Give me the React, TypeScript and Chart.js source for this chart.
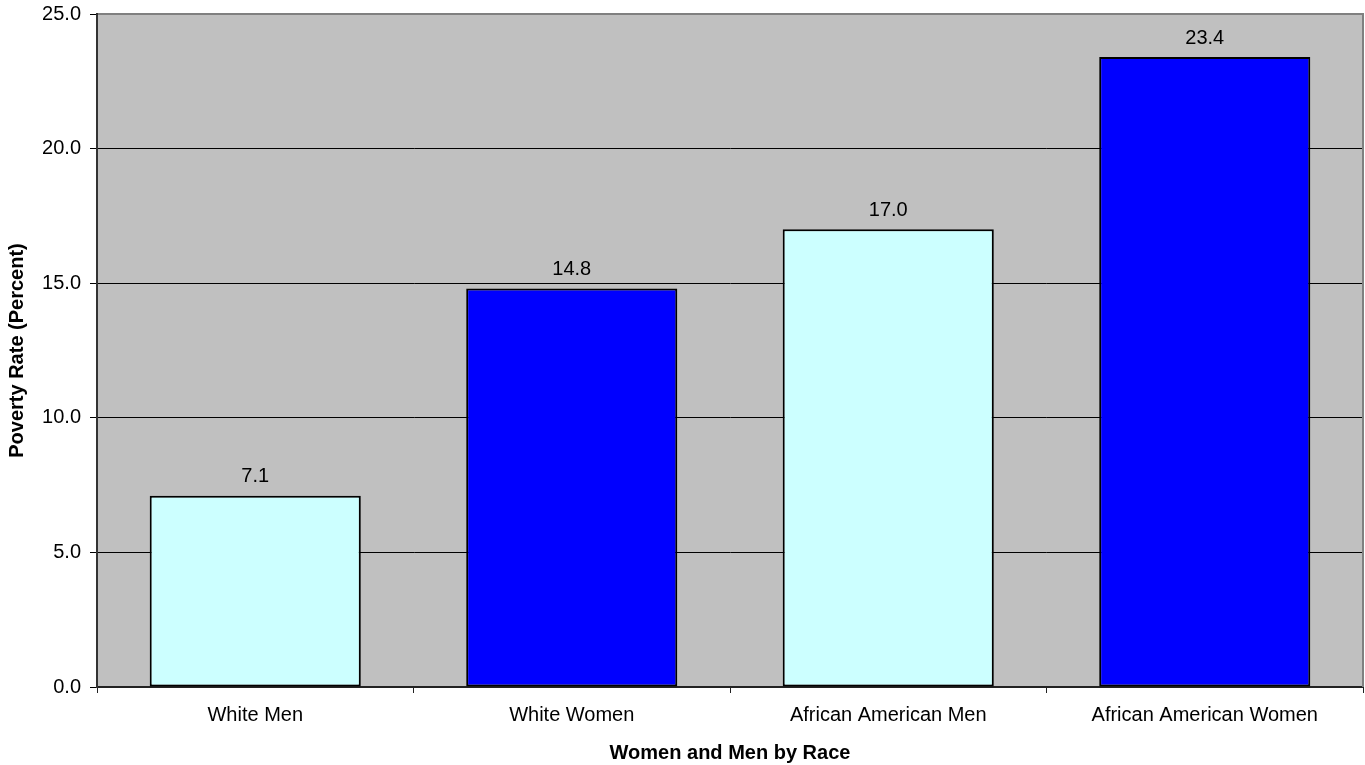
import React, { useEffect, useRef } from "react";
import { Chart, registerables } from "chart.js";

Chart.register(...registerables);

const categories = ["White Men", "White Women", "African American Men", "African American Women"];
const povertyRates = [7.1, 14.8, 17.0, 23.4];
const barColors = ["#CCFFFF", "#0000FF", "#CCFFFF", "#0000FF"];
const yTickValues = [0, 5, 10, 15, 20, 25];
const yTitle = "Poverty Rate (Percent)";
const xTitle = "Women and Men by Race";

const FONT = "'Liberation Sans', Arial, sans-serif";

const plotFrame = {
  id: "plotFrame",
  beforeDraw(chart: any) {
    const { ctx, chartArea: a } = chart;
    ctx.save();
    ctx.fillStyle = "#C0C0C0";
    ctx.fillRect(a.left, a.top, a.right - a.left, a.bottom - a.top);
    ctx.restore();
  },
  afterDraw(chart: any) {
    const { ctx, chartArea: a } = chart;
    ctx.save();
    ctx.strokeStyle = "#808080";
    ctx.lineWidth = 2;
    ctx.beginPath();
    ctx.moveTo(a.left + 1, a.top);
    ctx.lineTo(a.right, a.top);
    ctx.lineTo(a.right, a.bottom);
    ctx.stroke();
    ctx.restore();
  },
};

const valueLabels = {
  id: "valueLabels",
  afterDatasetsDraw(chart: any) {
    const { ctx } = chart;
    const meta = chart.getDatasetMeta(0);
    ctx.save();
    ctx.font = `20px ${FONT}`;
    ctx.fillStyle = "#000";
    ctx.textAlign = "center";
    ctx.textBaseline = "middle";
    meta.data.forEach((bar: any, i: number) => {
      ctx.fillText(povertyRates[i].toFixed(1), bar.x, bar.y - 19);
    });
    ctx.restore();
  },
};

export default function App() {
  const ref = useRef<HTMLCanvasElement>(null);
  useEffect(() => {
    if (!ref.current) return;
    const chart = new Chart(ref.current, {
      type: "bar",
      data: {
        labels: categories,
        datasets: [
          {
            data: povertyRates,
            backgroundColor: barColors,
            borderColor: "#000",
            borderWidth: 2,
            borderSkipped: false,
            barPercentage: 1,
            categoryPercentage: 0.667,
          },
        ],
      },
      options: {
        responsive: false,
        animation: false,
        devicePixelRatio: 1,
        layout: { padding: { top: 14, right: 2, left: 0, bottom: 0 } },
        plugins: {
          legend: { display: false },
          tooltip: { enabled: false },
        },
        scales: {
          x: {
            afterFit(scale: any) {
              scale.height = 78;
              scale.paddingLeft = 0;
              scale.paddingRight = 0;
            },
            grid: {
              offset: true,
              drawOnChartArea: false,
              color: "#222",
              tickLength: 6,
              lineWidth: 1,
            },
            border: { color: "#222", width: 2 },
            ticks: {
              color: "#000",
              font: { family: FONT, size: 20 },
              padding: 10,
              maxRotation: 0,
              autoSkip: false,
            },
            title: {
              display: true,
              text: xTitle,
              color: "#000",
              font: { family: FONT, size: 20, weight: "bold" },
              padding: { top: 0, bottom: 0 },
            },
          },
          y: {
            min: 0,
            max: 25,
            afterFit(scale: any) {
              scale.width = 97;
              scale.paddingTop = 0;
              scale.paddingBottom = 0;
            },
            afterBuildTicks(scale: any) {
              scale.ticks = yTickValues.map((v) => ({ value: v }));
            },
            grid: {
              color: "#000",
              lineWidth: 1,
              tickLength: 7,
            },
            border: { color: "#333", width: 2 },
            ticks: {
              color: "#000",
              font: { family: FONT, size: 20 },
              padding: 9,
              callback: (v: any) => Number(v).toFixed(1),
            },
            title: {
              display: true,
              text: yTitle,
              color: "#000",
              font: { family: FONT, size: 20, weight: "bold" },
              padding: { top: 5, bottom: 0 },
            },
          },
        },
      },
      plugins: [plotFrame, valueLabels],
    });
    return () => chart.destroy();
  }, []);
  return (
    <div style={{ position: "absolute", left: 0, top: 0, width: 1365, height: 765, background: "#fff" }}>
      <canvas ref={ref} width={1365} height={765} style={{ display: "block" }} />
    </div>
  );
}
